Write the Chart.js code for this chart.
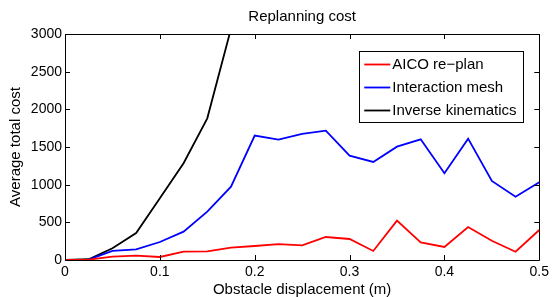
<!DOCTYPE html>
<html>
<head>
<meta charset="utf-8">
<script src="https://cdn.jsdelivr.net/npm/chart.js@4/dist/chart.umd.min.js"></script>
<style>
  html, body { margin: 0; padding: 0; background: #fff; }
  #wrap { width: 553px; height: 297px; position: relative; }
</style>
</head>
<body>
<div id="wrap"><canvas id="c" width="553" height="297"></canvas></div>
<script>
// ---- Data ----
const displacement = [0, 0.025, 0.05, 0.075, 0.1, 0.125, 0.15, 0.175, 0.2, 0.225, 0.25,
                      0.275, 0.3, 0.325, 0.35, 0.375, 0.4, 0.425, 0.45, 0.475, 0.5];
const aicoReplan = [0, 5, 44, 57, 40, 111, 115, 164, 186, 212, 195,
                    305, 279, 120, 522, 235, 173, 438, 256, 110, 398];
const interactionMesh = [0, 5, 120, 142, 239, 376, 642, 974, 1651, 1598, 1673,
                         1717, 1385, 1301, 1505, 1602, 1151, 1611, 1049, 841, 1032];
const inverseKinematics = [0, 10, 155, 358, 819, 1284, 1881, 3070];
const seriesLabels = ['AICO re\u2212plan', 'Interaction mesh', 'Inverse kinematics'];
const xTicks = [0, 0.1, 0.2, 0.3, 0.4, 0.5];
const yTicks = [0, 500, 1000, 1500, 2000, 2500, 3000];
const chartTitle = 'Replanning cost';

const FONT = '"Liberation Sans", Arial, Helvetica, sans-serif';

function pts(vals) {
  return vals.map((v, i) => ({ x: displacement[i], y: v }));
}

const framePlugin = {
  id: 'frame',
  afterDatasetsDraw(chart) {
    const { ctx, chartArea: a, scales } = chart;
    ctx.save();
    ctx.strokeStyle = '#000';
    ctx.lineWidth = 1;
    ctx.beginPath();
    ctx.rect(Math.round(a.left) + 0.5, Math.round(a.top) + 0.5,
             Math.round(a.right - a.left), Math.round(a.bottom - a.top));
    ctx.stroke();
    const L = 5;
    ctx.beginPath();
    xTicks.forEach(v => {
      const x = Math.round(scales.x.getPixelForValue(v)) + 0.5;
      ctx.moveTo(x, a.bottom); ctx.lineTo(x, a.bottom - L);
      ctx.moveTo(x, a.top); ctx.lineTo(x, a.top + L);
    });
    yTicks.forEach(v => {
      const y = Math.round(scales.y.getPixelForValue(v)) + 0.5;
      ctx.moveTo(a.left, y); ctx.lineTo(a.left + L, y);
      ctx.moveTo(a.right, y); ctx.lineTo(a.right - L, y);
    });
    ctx.stroke();
    ctx.restore();
  },
  afterDraw(chart) {
    const { ctx, chartArea: a } = chart;
    ctx.save();
    // title centred over the plot area
    ctx.fillStyle = '#000';
    ctx.font = '15px ' + FONT;
    ctx.textAlign = 'center';
    ctx.textBaseline = 'middle';
    ctx.fillText(chartTitle, (a.left + a.right) / 2, 17);
    // legend
    const bx = a.right - 180, by = a.top + 17, bw = 164, bh = 71;
    ctx.fillStyle = '#fff';
    ctx.fillRect(bx, by, bw, bh);
    ctx.strokeStyle = '#000';
    ctx.lineWidth = 1;
    ctx.strokeRect(Math.round(bx) + 0.5, Math.round(by) + 0.5, bw, bh);
    ctx.font = '15px ' + FONT;
    ctx.textBaseline = 'middle';
    ctx.textAlign = 'left';
    chart.data.datasets.forEach((ds, i) => {
      const y = by + 13.5 + i * 23;
      ctx.strokeStyle = ds.borderColor;
      ctx.lineWidth = 1.8;
      ctx.beginPath();
      ctx.moveTo(bx + 5, y); ctx.lineTo(bx + 31, y);
      ctx.stroke();
      ctx.fillStyle = '#000';
      ctx.fillText(ds.label, bx + 33, y + 0.5);
    });
    ctx.restore();
  }
};

new Chart(document.getElementById('c'), {
  type: 'line',
  data: {
    datasets: [
      { label: seriesLabels[0], data: pts(aicoReplan), borderColor: '#ff0000' },
      { label: seriesLabels[1], data: pts(interactionMesh), borderColor: '#0000ff' },
      { label: seriesLabels[2], data: pts(inverseKinematics), borderColor: '#000000' }
    ]
  },
  options: {
    responsive: false,
    animation: false,
    devicePixelRatio: 1,
    layout: { padding: { left: 0, right: 12, top: 34, bottom: 0 } },
    elements: {
      line: { borderWidth: 1.8, tension: 0, fill: false },
      point: { radius: 0 }
    },
    datasets: { line: { clip: 0 } },
    plugins: {
      legend: { display: false },
      tooltip: { enabled: false },
      title: { display: false }
    },
    scales: {
      x: {
        type: 'linear',
        min: 0, max: 0.5,
        afterBuildTicks(s) { s.ticks = xTicks.map(v => ({ value: v })); },
        afterFit(s) { s.height = 37; },
        grid: { display: false, drawTicks: false },
        border: { display: false },
        ticks: {
          color: '#000', padding: 4,
          font: { family: FONT, size: 14 },
          maxRotation: 0,
          callback: v => String(v)
        },
        title: {
          display: true, text: 'Obstacle displacement (m)', color: '#000',
          font: { family: FONT, size: 15, lineHeight: 1 },
          padding: { top: 0, bottom: 0 }
        }
      },
      y: {
        type: 'linear',
        min: 0, max: 3000,
        afterBuildTicks(s) { s.ticks = yTicks.map(v => ({ value: v })); },
        afterFit(s) { s.width = 65; },
        grid: { display: false, drawTicks: false },
        border: { display: false },
        ticks: {
          color: '#000', padding: 3,
          font: { family: FONT, size: 14 },
          callback: v => String(v)
        },
        title: {
          display: true, text: 'Average total cost', color: '#000',
          font: { family: FONT, size: 15, lineHeight: 1 },
          padding: { top: 8.5, bottom: 0 }
        }
      }
    }
  },
  plugins: [framePlugin]
});
</script>
</body>
</html>
